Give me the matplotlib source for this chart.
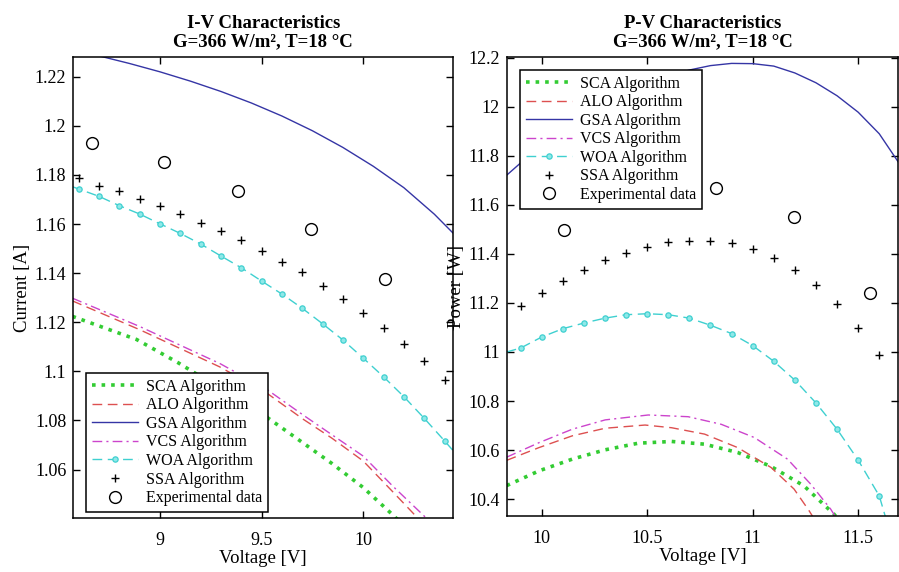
import matplotlib
matplotlib.use('Agg')
import matplotlib.pyplot as plt

plt.rcParams['font.family'] = ['Liberation Serif', 'DejaVu Serif']

# ---- I-V panel data (voltage [V], current [A]) ----
v_sca_iv = [8.57, 8.885, 9.09, 9.525, 9.846, 10.0, 10.15, 10.3]
i_sca = [1.1224, 1.1130, 1.1035, 1.0814, 1.0625, 1.0527, 1.0412, 1.0290]
v_alo_iv = [8.57, 8.9, 9.295, 9.525, 9.705, 9.846, 10.0, 10.145, 10.262, 10.35]
i_alo = [1.1287, 1.1170, 1.1018, 1.0912, 1.0805, 1.0728, 1.0635, 1.0510, 1.0408, 1.0310]
v_gsa_iv = [8.57, 8.70, 8.85, 9.0, 9.15, 9.3, 9.45, 9.6, 9.75, 9.9, 10.05, 10.2, 10.35, 10.46]
i_gsa = [1.2312, 1.2285, 1.2254, 1.2220, 1.2182, 1.2140, 1.2093, 1.2040, 1.1980,
         1.1912, 1.1835, 1.1748, 1.1640, 1.1548]
v_vcs_iv = [8.57, 8.9, 9.295, 9.525, 9.705, 9.846, 10.0, 10.145, 10.301, 10.40]
i_vcs = [1.1298, 1.1183, 1.1032, 1.0927, 1.0822, 1.0742, 1.0655, 1.0533, 1.0410, 1.0300]
v_woa_iv = [8.57, 8.6, 8.7, 8.8, 8.9, 9.0, 9.1, 9.2, 9.3, 9.4, 9.5, 9.6, 9.7, 9.8,
            9.9, 10.0, 10.1, 10.2, 10.3, 10.4, 10.45]
i_woa = [1.1752, 1.1743, 1.1713, 1.1675, 1.1641, 1.1601, 1.1562, 1.1519, 1.1470,
         1.1422, 1.1368, 1.1315, 1.1257, 1.1194, 1.1128, 1.1054, 1.0978, 1.0897,
         1.0809, 1.0717, 1.0670]
v_ssa_iv = [8.6, 8.7, 8.8, 8.9, 9.0, 9.1, 9.2, 9.3, 9.4, 9.5, 9.6, 9.7, 9.8, 9.9,
            10.0, 10.1, 10.2, 10.3, 10.4]
i_ssa = [1.1786, 1.1756, 1.1733, 1.1703, 1.1673, 1.1641, 1.1605, 1.1572, 1.1534,
         1.1490, 1.1445, 1.1403, 1.1349, 1.1295, 1.1238, 1.1178, 1.1110, 1.1042, 1.0965]
v_exp = [8.664, 9.021, 9.386, 9.744, 10.108, 10.47, 10.827, 11.197, 11.555]
i_exp = [1.1931, 1.1854, 1.1734, 1.1578, 1.1375, 1.1180, 1.0776, 1.0317, 0.9727]

# ---- P-V panel data (voltage [V], power [W]) ----
v_sca_pv = [9.834, 9.987, 10.145, 10.301, 10.458, 10.616, 10.772, 10.929, 11.087, 11.243, 11.385, 11.45]
p_sca = [10.455, 10.515, 10.563, 10.601, 10.628, 10.635, 10.624, 10.590, 10.533, 10.454, 10.339, 10.270]
v_alo_pv = [9.834, 9.987, 10.145, 10.301, 10.49, 10.616, 10.772, 10.929, 11.087, 11.196, 11.267, 11.32]
p_alo = [10.558, 10.610, 10.658, 10.689, 10.702, 10.691, 10.665, 10.610, 10.529, 10.441, 10.353, 10.280]
v_gsa_pv = [9.834, 9.9, 10.0, 10.1, 10.2, 10.3, 10.4, 10.5, 10.6, 10.7, 10.8, 10.9,
            11.0, 11.1, 11.2, 11.3, 11.4, 11.5, 11.6, 11.69]
p_gsa = [11.721, 11.771, 11.845, 11.912, 11.968, 12.018, 12.060, 12.095, 12.125,
         12.150, 12.168, 12.177, 12.176, 12.166, 12.138, 12.098, 12.045, 11.978,
         11.890, 11.775]
v_vcs_pv = [9.834, 9.987, 10.145, 10.301, 10.505, 10.694, 10.851, 11.008, 11.165, 11.275, 11.369, 11.42]
p_vcs = [10.571, 10.630, 10.685, 10.723, 10.743, 10.736, 10.705, 10.651, 10.563, 10.461, 10.360, 10.290]
v_woa_pv = [9.834, 9.9, 10.0, 10.1, 10.2, 10.3, 10.4, 10.5, 10.6, 10.7, 10.8, 10.9,
            11.0, 11.1, 11.2, 11.3, 11.4, 11.5, 11.6, 11.7]
p_woa = [11.000, 11.016, 11.061, 11.095, 11.118, 11.138, 11.152, 11.156, 11.152,
         11.138, 11.109, 11.075, 11.026, 10.962, 10.885, 10.792, 10.685, 10.559,
         10.413, 10.120]
v_ssa_pv = [9.9, 10.0, 10.1, 10.2, 10.3, 10.4, 10.5, 10.6, 10.7, 10.8, 10.9, 11.0,
            11.1, 11.2, 11.3, 11.4, 11.5, 11.6]
p_ssa = [11.186, 11.240, 11.291, 11.336, 11.376, 11.404, 11.430, 11.449, 11.453,
         11.453, 11.443, 11.419, 11.385, 11.336, 11.272, 11.197, 11.099, 10.988]
p_exp = [10.040, 10.693, 11.014, 11.283, 11.498, 11.705, 11.667, 11.552, 11.240]

labels = ['SCA Algorithm', 'ALO Algorithm', 'GSA Algorithm', 'VCS Algorithm',
          'WOA Algorithm', 'SSA Algorithm', 'Experimental data']
iv_xticks = [9, 9.5, 10]
iv_yticks = [1.06, 1.08, 1.1, 1.12, 1.14, 1.16, 1.18, 1.2, 1.22]
pv_xticks = [10, 10.5, 11, 11.5]
pv_yticks = [10.4, 10.6, 10.8, 11, 11.2, 11.4, 11.6, 11.8, 12, 12.2]

c_sca = '#33cc33'
c_alo = '#dd5050'
c_gsa = '#3535a5'
c_vcs = '#cc44cc'
c_woa = '#3fd0d0'


def fmt(v):
    return ('%g' % v)


def draw(ax, d):
    ax.plot(d['sca'][0], d['sca'][1], ':', color=c_sca, lw=2.6, label=labels[0])
    ax.plot(d['alo'][0], d['alo'][1], '--', color=c_alo, lw=1.0, dashes=(7, 4), label=labels[1])
    ax.plot(d['gsa'][0], d['gsa'][1], '-', color=c_gsa, lw=1.0, label=labels[2])
    ax.plot(d['vcs'][0], d['vcs'][1], '-.', color=c_vcs, lw=1.0, dashes=(7, 3, 1.5, 3), label=labels[3])
    n = len(d['woa'][0])
    ax.plot(d['woa'][0], d['woa'][1], '--', color=c_woa, lw=1.0, dashes=(7, 4),
            marker='o', ms=3.8, mfc='#8fe8e8', mec=c_woa, mew=0.9,
            markevery=list(range(1, n - 1)), label=labels[4])
    ax.plot(d['ssa'][0], d['ssa'][1], '+', color='black', ms=6, mew=1.0,
            linestyle='none', label=labels[5])
    ax.plot(d['exp'][0], d['exp'][1], 'o', mfc='none', mec='black', ms=8.5, mew=1.0,
            linestyle='none', label=labels[6])


fig = plt.figure(figsize=(8.99, 5.72), dpi=100)
ax1 = fig.add_axes([0.0815, 0.0949, 0.4227, 0.8049])
ax2 = fig.add_axes([0.5636, 0.0979, 0.4358, 0.8024])

draw(ax1, {'sca': (v_sca_iv, i_sca), 'alo': (v_alo_iv, i_alo), 'gsa': (v_gsa_iv, i_gsa),
           'vcs': (v_vcs_iv, i_vcs), 'woa': (v_woa_iv, i_woa), 'ssa': (v_ssa_iv, i_ssa),
           'exp': (v_exp, i_exp)})
draw(ax2, {'sca': (v_sca_pv, p_sca), 'alo': (v_alo_pv, p_alo), 'gsa': (v_gsa_pv, p_gsa),
           'vcs': (v_vcs_pv, p_vcs), 'woa': (v_woa_pv, p_woa), 'ssa': (v_ssa_pv, p_ssa),
           'exp': (v_exp, p_exp)})

ax1.set_xlim(8.574, 10.443)
ax1.set_ylim(1.0404, 1.2279)
ax2.set_xlim(9.834, 11.691)
ax2.set_ylim(10.331, 12.203)

for ax, xt, yt in [(ax1, iv_xticks, iv_yticks), (ax2, pv_xticks, pv_yticks)]:
    ax.set_xticks(xt)
    ax.set_xticklabels([fmt(v) for v in xt])
    ax.set_yticks(yt)
    ax.set_yticklabels([fmt(v) for v in yt])
    ax.tick_params(direction='in', top=True, right=True, length=5, width=1.0,
                   labelsize=13)
    ax.tick_params(axis='x', pad=10)
    ax.tick_params(axis='y', pad=5)
    for s in ax.spines.values():
        s.set_linewidth(1.1)
    ax.set_xlabel('Voltage [V]', fontsize=13.5)
    ax.xaxis.set_label_coords(0.5, -0.07)

ax1.set_ylabel('Current [A]', fontsize=13.5)
ax1.yaxis.set_label_coords(-0.111, 0.5)
ax2.set_ylabel('Power [W]', fontsize=13.5)
ax2.yaxis.set_label_coords(-0.106, 0.5)

ax1.set_title('I-V Characteristics\nG=366 W/m², T=18 °C', fontsize=13.5,
              fontweight='bold', pad=8, linespacing=1.1)
ax2.set_title('P-V Characteristics\nG=366 W/m², T=18 °C', fontsize=13.5,
              fontweight='bold', pad=8, linespacing=1.1)

leg_kw = dict(fontsize=11.5, handlelength=2.9, handletextpad=0.5, labelspacing=0.16,
              borderpad=0.35, borderaxespad=0.0, fancybox=False, framealpha=1.0,
              edgecolor='black')
l1 = ax1.legend(loc='lower left', bbox_to_anchor=(0.0334, 0.013), **leg_kw)
l2 = ax2.legend(loc='upper left', bbox_to_anchor=(0.034, 0.9717), **leg_kw)
for lg in (l1, l2):
    lg.get_frame().set_linewidth(1.1)

fig.savefig('out.png', dpi=100)
